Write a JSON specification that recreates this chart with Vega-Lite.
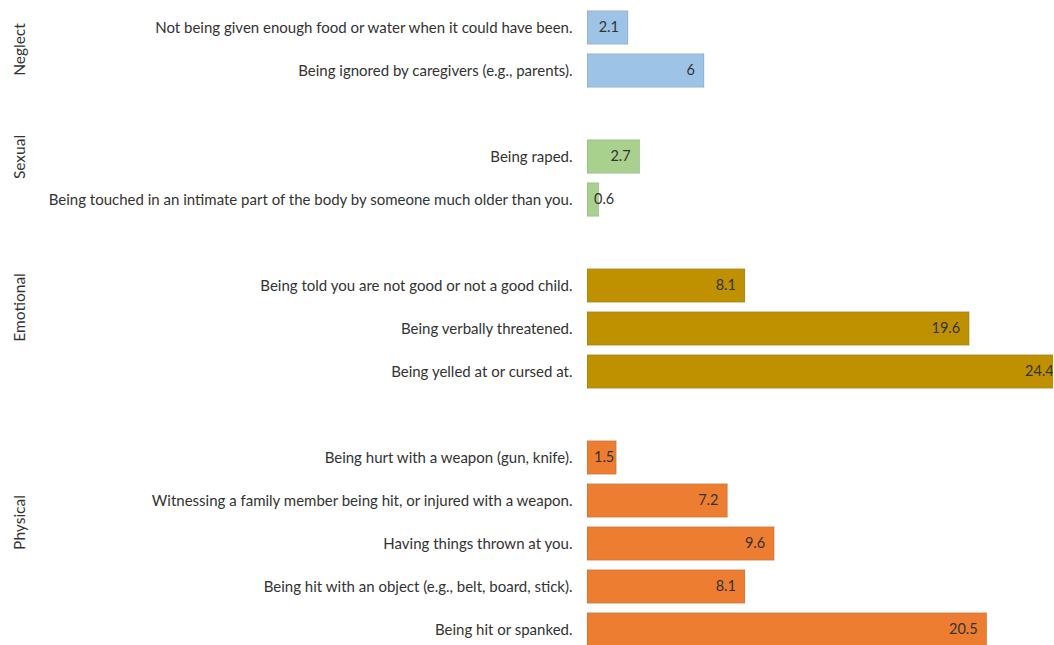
{
  "$schema": "https://vega.github.io/schema/vega-lite/v6.json",
  "padding": {"left": 12, "top": 6, "right": 0, "bottom": 0},
  "background": "white",
  "config": {
    "view": {"stroke": null},
    "concat": {"spacing": 0},
    "font": "Lato",
    "axis": {
      "domain": false, "ticks": false, "grid": false,
      "labelPadding": 15, "labelFontSize": 15, "labelFont": "Lato", "labelColor": "#333333", "labelLimit": 800,
      "titleFont": "Lato", "titleFontSize": 15.5, "titleFontWeight": "normal", "titleColor": "#333333", "titleX": -560
    }
  },
  "data": {"values": [
    {"group": "Neglect", "item": "Not being given enough food or water when it could have been.", "value": 2.1},
    {"group": "Neglect", "item": "Being ignored by caregivers (e.g., parents).", "value": 6},
    {"group": "Sexual", "item": "Being raped.", "value": 2.7},
    {"group": "Sexual", "item": "Being touched in an intimate part of the body by someone much older than you.", "value": 0.6},
    {"group": "Emotional", "item": "Being told you are not good or not a good child.", "value": 8.1},
    {"group": "Emotional", "item": "Being verbally threatened.", "value": 19.6},
    {"group": "Emotional", "item": "Being yelled at or cursed at.", "value": 24.4},
    {"group": "Physical", "item": "Being hurt with a weapon (gun, knife).", "value": 1.5},
    {"group": "Physical", "item": "Witnessing a family member being hit, or injured with a weapon.", "value": 7.2},
    {"group": "Physical", "item": "Having things thrown at you.", "value": 9.6},
    {"group": "Physical", "item": "Being hit with an object (e.g., belt, board, stick).", "value": 8.1},
    {"group": "Physical", "item": "Being hit or spanked.", "value": 20.5}
  ]},
  "vconcat": [
    {
      "width": 466, "height": 86,
      "transform": [{"filter": "datum.group === 'Neglect'"}],
      "encoding": {
        "y": {"field": "item", "type": "nominal", "sort": null, "scale": {"paddingInner": 0.22, "paddingOuter": 0.11, "align": 0.5}, "axis": {"title": "Neglect"}},
        "x": {"field": "value", "type": "quantitative", "scale": {"domain": [0, 23.9], "nice": false}, "axis": null}
      },
      "layer": [
        {"mark": {"type": "bar", "clip": true, "stroke": "#00000022", "strokeWidth": 1}, "encoding": {"color": {"field": "group", "type": "nominal", "scale": {"domain": ["Neglect", "Sexual", "Emotional", "Physical"], "range": ["#9DC3E6", "#A9D18E", "#BF9000", "#ED7D31"]}, "legend": null}}},
        {"transform": [{"filter": "datum.value >= 2"}], "mark": {"type": "text", "clip": true, "align": "right", "dx": -9, "fontSize": 14.5, "color": "#333333"}, "encoding": {"text": {"field": "value", "type": "quantitative"}}},
        {"transform": [{"filter": "datum.value < 2"}], "mark": {"type": "text", "clip": true, "align": "left", "dx": 7, "fontSize": 14.5, "color": "#333333"}, "encoding": {"x": {"datum": 0, "type": "quantitative"}, "text": {"field": "value", "type": "quantitative"}}}
      ]
    },
    {
      "width": 466, "height": 129,
      "transform": [{"filter": "datum.group === 'Sexual'"}],
      "encoding": {
        "y": {"field": "item", "type": "nominal", "sort": null, "scale": {"paddingInner": 0.22, "paddingOuter": 0.61, "align": 0.91}, "axis": {"title": "Sexual"}},
        "x": {"field": "value", "type": "quantitative", "scale": {"domain": [0, 23.9], "nice": false}, "axis": null}
      },
      "layer": [
        {"mark": {"type": "bar", "clip": true, "stroke": "#00000022", "strokeWidth": 1}, "encoding": {"color": {"field": "group", "type": "nominal", "scale": {"domain": ["Neglect", "Sexual", "Emotional", "Physical"], "range": ["#9DC3E6", "#A9D18E", "#BF9000", "#ED7D31"]}, "legend": null}}},
        {"transform": [{"filter": "datum.value >= 2"}], "mark": {"type": "text", "clip": true, "align": "right", "dx": -9, "fontSize": 14.5, "color": "#333333"}, "encoding": {"text": {"field": "value", "type": "quantitative"}}},
        {"transform": [{"filter": "datum.value < 2"}], "mark": {"type": "text", "clip": true, "align": "left", "dx": 7, "fontSize": 14.5, "color": "#333333"}, "encoding": {"x": {"datum": 0, "type": "quantitative"}, "text": {"field": "value", "type": "quantitative"}}}
      ]
    },
    {
      "width": 466, "height": 172,
      "transform": [{"filter": "datum.group === 'Emotional'"}],
      "encoding": {
        "y": {"field": "item", "type": "nominal", "sort": null, "scale": {"paddingInner": 0.22, "paddingOuter": 0.61, "align": 0.91}, "axis": {"title": "Emotional"}},
        "x": {"field": "value", "type": "quantitative", "scale": {"domain": [0, 23.9], "nice": false}, "axis": null}
      },
      "layer": [
        {"mark": {"type": "bar", "clip": true, "stroke": "#00000022", "strokeWidth": 1}, "encoding": {"color": {"field": "group", "type": "nominal", "scale": {"domain": ["Neglect", "Sexual", "Emotional", "Physical"], "range": ["#9DC3E6", "#A9D18E", "#BF9000", "#ED7D31"]}, "legend": null}}},
        {"transform": [{"filter": "datum.value >= 2"}], "mark": {"type": "text", "clip": true, "align": "right", "dx": -9, "fontSize": 14.5, "color": "#333333"}, "encoding": {"text": {"field": "value", "type": "quantitative"}}},
        {"transform": [{"filter": "datum.value < 2"}], "mark": {"type": "text", "clip": true, "align": "left", "dx": 7, "fontSize": 14.5, "color": "#333333"}, "encoding": {"x": {"datum": 0, "type": "quantitative"}, "text": {"field": "value", "type": "quantitative"}}}
      ]
    },
    {
      "width": 466, "height": 258,
      "transform": [{"filter": "datum.group === 'Physical'"}],
      "encoding": {
        "y": {"field": "item", "type": "nominal", "sort": null, "scale": {"paddingInner": 0.22, "paddingOuter": 0.61, "align": 0.91}, "axis": {"title": "Physical"}},
        "x": {"field": "value", "type": "quantitative", "scale": {"domain": [0, 23.9], "nice": false}, "axis": null}
      },
      "layer": [
        {"mark": {"type": "bar", "clip": true, "stroke": "#00000022", "strokeWidth": 1}, "encoding": {"color": {"field": "group", "type": "nominal", "scale": {"domain": ["Neglect", "Sexual", "Emotional", "Physical"], "range": ["#9DC3E6", "#A9D18E", "#BF9000", "#ED7D31"]}, "legend": null}}},
        {"transform": [{"filter": "datum.value >= 2"}], "mark": {"type": "text", "clip": true, "align": "right", "dx": -9, "fontSize": 14.5, "color": "#333333"}, "encoding": {"text": {"field": "value", "type": "quantitative"}}},
        {"transform": [{"filter": "datum.value < 2"}], "mark": {"type": "text", "clip": true, "align": "left", "dx": 7, "fontSize": 14.5, "color": "#333333"}, "encoding": {"x": {"datum": 0, "type": "quantitative"}, "text": {"field": "value", "type": "quantitative"}}}
      ]
    }
  ]
}
